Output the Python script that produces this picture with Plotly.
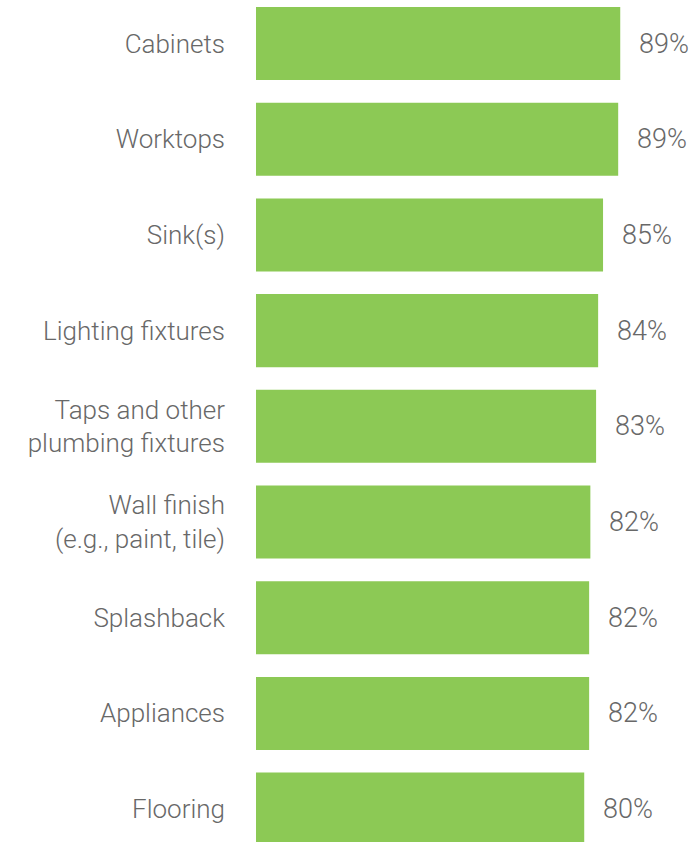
import plotly.graph_objects as go

# ── Data ─────────────────────────────────────────────────────────────────────
categories = [
    "Cabinets",
    "Worktops",
    "Sink(s)",
    "Lighting fixtures",
    "Taps and other<br>plumbing fixtures",
    "Wall finish<br>(e.g., paint, tile)",
    "Splashback",
    "Appliances",
    "Flooring",
]
values = [89.0, 88.5, 84.8, 83.6, 83.1, 81.7, 81.4, 81.4, 80.2]
value_labels = ["89%", "89%", "85%", "84%", "83%", "82%", "82%", "82%", "80%"]

# ── Theme ────────────────────────────────────────────────────────────────────
BAR_GREEN = "#8cc955"
TEXT_GRAY = "#686868"
LABEL_FONT = dict(family="Roboto", size=26, color=TEXT_GRAY, weight=300)
VALUE_FONT = dict(family="Roboto", size=27, color=TEXT_GRAY, weight=300)

fig = go.Figure(go.Bar(
    x=values,
    y=categories,
    orientation="h",
    marker=dict(color=BAR_GREEN, line=dict(width=0)),
    hoverinfo="skip",
))

for cat, val, lab in zip(categories, values, value_labels):
    fig.add_annotation(
        x=val, y=cat, text=lab,
        xanchor="left", yanchor="middle",
        xshift=17, showarrow=False,
        font=VALUE_FONT,
    )

fig.update_layout(
    width=698,
    height=842,
    margin=dict(l=256, r=0, t=0, b=0),
    paper_bgcolor="white",
    plot_bgcolor="white",
    bargap=0.237,
    showlegend=False,
    font=LABEL_FONT,
    xaxis=dict(range=[0, 108], visible=False, fixedrange=True),
    yaxis=dict(
        type="category",
        range=[8.344, -0.455],
        showgrid=False, zeroline=False, showline=False,
        ticks="", ticklabelstandoff=30,
        tickfont=LABEL_FONT,
        fixedrange=True,
    ),
)

# page body has a default 8px margin; drop it so the figure sits at 0,0
fig.write_html(
    "out.html",
    config={"displayModeBar": False},
    post_script="document.body.style.margin='0';",
)
